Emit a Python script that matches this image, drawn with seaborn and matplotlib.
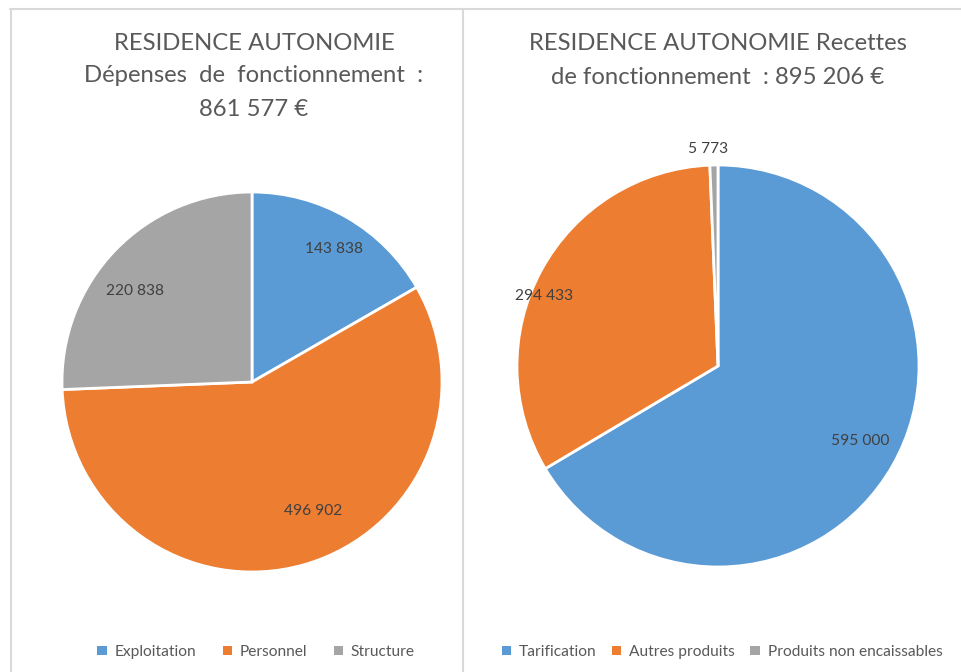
import matplotlib
matplotlib.use("Agg")
import matplotlib.pyplot as plt
import seaborn as sns
from matplotlib.lines import Line2D
from matplotlib.patches import Patch
import numpy as np

sns.set_theme(style="white")
plt.rcParams['font.family'] = ['Lato', 'DejaVu Sans']

# Data
dep_labels = ["Exploitation", "Personnel", "Structure"]
dep_values = [143838, 496902, 220838]
dep_title = ["RESIDENCE AUTONOMIE", "Dépenses  de  fonctionnement  :", "861 577 €"]

rec_labels = ["Tarification", "Autres produits", "Produits non encaissables"]
rec_values = [595000, 294433, 5773]
rec_title = ["RESIDENCE AUTONOMIE Recettes", "de fonctionnement  : 895 206 €"]

colors = ["#5B9BD5", "#ED7D31", "#A5A5A5"]
TITLE_C = "#595959"
LABEL_C = "#404040"
W, H = 962, 672

fig = plt.figure(figsize=(W / 100, H / 100), dpi=100)
fig.patch.set_facecolor("white")


def fmt(v):
    return f"{v:,}".replace(",", " ")


def make_pie(cx, cy, r, values, dists, lab_offsets=None):
    ax = fig.add_axes([(cx - r) / W, (H - cy - r) / H, 2 * r / W, 2 * r / H])
    wedges, _ = ax.pie(values, colors=colors, startangle=90, counterclock=False,
                       radius=1.0, wedgeprops=dict(edgecolor="white", linewidth=2))
    ax.set_xlim(-1, 1)
    ax.set_ylim(-1, 1)
    ax.set_aspect("equal")
    ax.axis("off")
    for i, (w, v) in enumerate(zip(wedges, values)):
        th = np.deg2rad((w.theta1 + w.theta2) / 2)
        if lab_offsets is not None:
            th += np.deg2rad(lab_offsets[i])
        d = dists[i]
        ax.text(d * np.cos(th), d * np.sin(th), fmt(v), ha="center", va="center",
                fontsize=11.2, color=LABEL_C, clip_on=False)
    return ax


make_pie(252, 382, 190, dep_values, [0.82, 0.75, 0.78], [-1.5, 9.5, 5.8])
make_pie(718, 366, 201, rec_values, [0.80, 0.93, 1.08], [1.8, 6.6, 1.5])

# Titles
for i, t in enumerate(dep_title):
    fig.text(254 / W, 1 - (43 + 33 * i) / H, t, ha="center", va="center",
             fontsize=17.2, color=TITLE_C)
for i, t in enumerate(rec_title):
    fig.text(718 / W, 1 - (44 + 33 * i) / H, t, ha="center", va="center",
             fontsize=17.2, color=TITLE_C)

# Legends
handles_dep = [Patch(facecolor=c, edgecolor="none") for c in colors]
fig.legend(handles_dep, dep_labels, loc="center", bbox_to_anchor=(256 / W, 1 - 652 / H),
           ncol=3, frameon=False, fontsize=11.2, handlelength=0.6, handleheight=0.6,
           handletextpad=0.5, columnspacing=1.7, labelcolor=TITLE_C)
fig.legend(handles_dep, rec_labels, loc="center", bbox_to_anchor=(722 / W, 1 - 652 / H),
           ncol=3, frameon=False, fontsize=11.2, handlelength=0.6, handleheight=0.6,
           handletextpad=0.5, columnspacing=1.0, labelcolor=TITLE_C)

# Frame lines
lc = "#D9D9D9"
fig.add_artist(Line2D([10 / W, 1], [1 - 8.5 / H, 1 - 8.5 / H], color=lc, lw=1.5))
fig.add_artist(Line2D([10.5 / W, 10.5 / W], [0, 1 - 8.5 / H], color=lc, lw=1.5))
fig.add_artist(Line2D([463 / W, 463 / W], [0, 1 - 8.5 / H], color=lc, lw=1.5))

fig.savefig("out.png", dpi=100, facecolor="white")
